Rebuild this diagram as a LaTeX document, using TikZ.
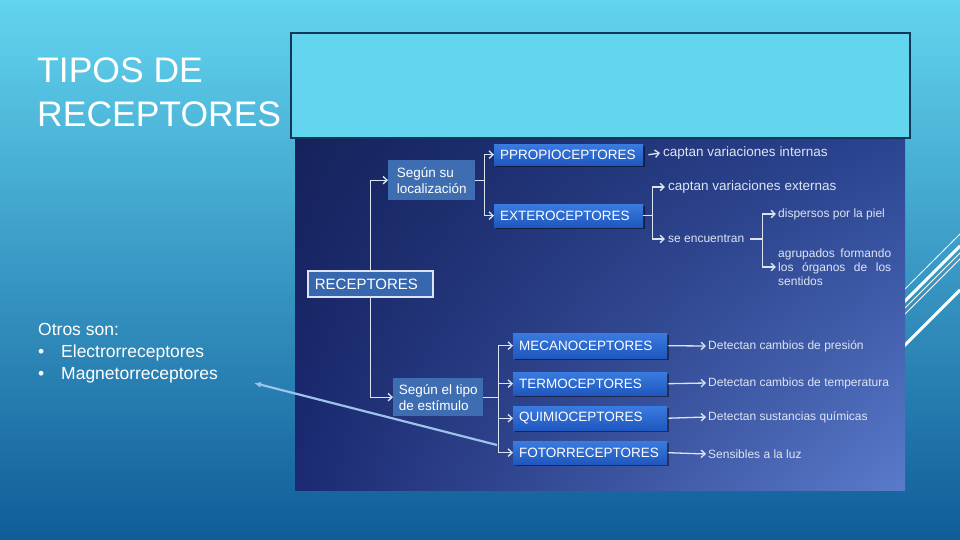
\documentclass[tikz,border=0pt]{standalone}
\usepackage{fontspec}
\setmainfont{Liberation Sans}
\usetikzlibrary{arrows.meta,shadows,shadings}
\definecolor{bgtop}{HTML}{62D4EF}
\definecolor{bgmid}{HTML}{37A2D2}
\definecolor{bgbot}{HTML}{105C98}
\definecolor{mapul}{HTML}{15225C}
\definecolor{mapur}{HTML}{2A4491}
\definecolor{mapll}{HTML}{1B2A72}
\definecolor{maplr}{HTML}{5A7BCB}
\definecolor{capbox}{HTML}{63D5EE}
\definecolor{capline}{HTML}{113858}
\definecolor{boxtop}{HTML}{3A7BE0}
\definecolor{boxbot}{HTML}{1F57BE}
\definecolor{lboxc}{HTML}{3E6DB2}
\definecolor{rboxc}{HTML}{3767AE}
\definecolor{lnc}{HTML}{DCE4F2}
\definecolor{txc}{HTML}{DDE5F3}
\definecolor{bigarr}{HTML}{9DC3EA}
\tikzset{
  conn/.style={draw=lnc, line width=1.3pt, -{Straight Barb[length=4pt,width=7.5pt]}},
  plainline/.style={draw=lnc, line width=1.3pt},
  bbox/.style={anchor=north west, inner xsep=6pt, inner ysep=0pt, align=left,
    font=\fontsize{13.5}{15}\selectfont, text=white,
    top color=boxtop, bottom color=boxbot, draw=none,
    drop shadow={shadow xshift=1.5pt, shadow yshift=-1.5pt, fill=black, opacity=0.45}},
  lbox/.style={anchor=north west, inner xsep=5pt, inner ysep=0pt, align=left,
    font=\fontsize{13.5}{16}\selectfont, text=white, fill=lboxc},
  rbox/.style={anchor=north west, inner xsep=7pt, inner ysep=0pt, align=left,
    font=\fontsize{15}{17}\selectfont, text=white, fill=rboxc, draw=lnc, line width=1.8pt},
  desc/.style={anchor=west, inner sep=0pt, text=txc, font=\fontsize{12}{14}\selectfont},
  descb/.style={anchor=west, inner sep=0pt, text=txc, font=\fontsize{13.5}{15}\selectfont},
  deco/.style={draw=white, line cap=butt},
}
\begin{document}
\begin{tikzpicture}[x=1pt,y=-1pt]
\useasboundingbox (0,0) rectangle (960,540);
% slide background
\shade[top color=bgtop, middle color=bgmid, bottom color=bgbot] (0,0) rectangle (960,540);
% decorative lines
\draw[deco, line width=0.8pt] (880,314) -- (960,234);
\draw[deco, line width=3pt] (880,326) -- (960,246);
\draw[deco, line width=0.8pt] (880,333) -- (960,253);
\draw[deco, line width=0.8pt] (880,339) -- (960,259);
\draw[deco, line width=3pt] (880,370) -- (960,290);
% concept map panel
\shade[upper left=mapul, upper right=mapur, lower left=mapll, lower right=maplr] (295,137) rectangle (905,490);
% caption box
\node[draw=capline, line width=2pt, fill=capbox, anchor=north west, minimum width=619pt, minimum height=105pt, inner sep=0pt] (cap) at (290,32) {};
% title
\node[anchor=north west, inner sep=0pt, align=left, text=white, font=\fontsize{35.5}{44}\selectfont] (title) at (37,57.5) {TIPOS DE\\RECEPTORES};
% others
\node[anchor=north west, inner sep=0pt, align=left, text=white, font=\fontsize{17.5}{22}\selectfont] (otros) at (38,323.5)
  {Otros son:\\\makebox[23pt][l]{•}Electrorreceptores\\\makebox[23pt][l]{•}Magnetorreceptores};
% nodes
\node[rbox, text width=111pt, minimum height=26pt] (rec) at (307,270) {RECEPTORES};
\node[lbox, minimum width=87pt, minimum height=40pt] (loc) at (388,160) {Según su\\localización};
\node[lbox, minimum width=90pt, minimum height=38pt] (est) at (393,378) {Según el tipo\\de estímulo};
\node[bbox, text width=137pt, minimum height=21pt] (pro) at (494,144) {PPROPIOCEPTORES};
\node[bbox, text width=137pt, minimum height=23pt] (ext) at (494,204) {EXTEROCEPTORES};
\node[bbox, text width=142pt, minimum height=25pt] (mec) at (513,333) {MECANOCEPTORES};
\node[bbox, text width=142pt, minimum height=23pt] (ter) at (513,372) {TERMOCEPTORES};
\node[bbox, text width=142pt, minimum height=24pt] (qui) at (513,406) {QUIMIOCEPTORES};
\node[bbox, text width=142pt, minimum height=23pt] (fot) at (513,441) {FOTORRECEPTORES};
% texts
\node[descb] (int) at (663,153) {captan variaciones internas};
\node[descb] (cext) at (668,187) {captan variaciones externas};
\node[desc] (sen) at (668,239) {se encuentran};
\node[desc] (disp) at (778,214) {dispersos por la piel};
\node[desc, text width=113pt, align=justify] (agr) at (778,267) {\hyphenpenalty=10000\relax agrupados formando los órganos de los sentidos};
\node[desc] (dmec) at (708,346) {Detectan cambios de presión};
\node[desc] (dter) at (708,383) {Detectan cambios de temperatura};
\node[desc] (dqui) at (708,417) {Detectan sustancias químicas};
\node[desc] (dfot) at (708,454) {Sensibles a la luz};
% connectors
\draw[conn] (rec.north) |- (loc.west);
\draw[conn] (rec.south) |- (est.west);
\draw[plainline] (loc.east) -- ++(9,0) coordinate (lb);
\draw[conn] (lb) |- (pro.west);
\draw[conn] (lb) |- (ext.west);
\draw[plainline] (est.east) -- ++(15,0) coordinate (eb);
\draw[conn] (eb) |- (mec.west);
\draw[conn] (eb) |- (ter.west);
\draw[conn] (eb) |- (qui.west);
\draw[conn] (eb) |- (fot.west);
\draw[conn] ([xshift=5pt]pro.east) -- ([xshift=-3pt]int.west);
\draw[plainline] (ext.east) -- ++(9,0) coordinate (xb);
\draw[conn] (xb) |- ([xshift=-3pt]cext.west);
\draw[conn] (xb) |- ([xshift=-3pt]sen.west);
\draw[plainline] ([xshift=6pt]sen.east) -- ++(12,0) coordinate (sb);
\draw[conn] (sb) |- ([xshift=-2pt]disp.west);
\draw[conn] (sb) |- ([xshift=-2pt]agr.west);
\draw[conn] ([xshift=1pt]mec.east) -- ([xshift=-2pt]dmec.west);
\draw[conn] ([xshift=1pt]ter.east) -- ([xshift=-2pt]dter.west);
\draw[conn] ([xshift=1pt]qui.east) -- ([xshift=-2pt]dqui.west);
\draw[conn] ([xshift=1pt]fot.east) -- ([xshift=-2pt]dfot.west);
% long arrow
\coordinate (a1) at (497,445);
\coordinate (a2) at (254,383);
\draw[draw=bigarr, line width=2.2pt, -{Latex[length=7pt,width=6pt]}] (a1) -- (a2);
\end{tikzpicture}
\end{document}
